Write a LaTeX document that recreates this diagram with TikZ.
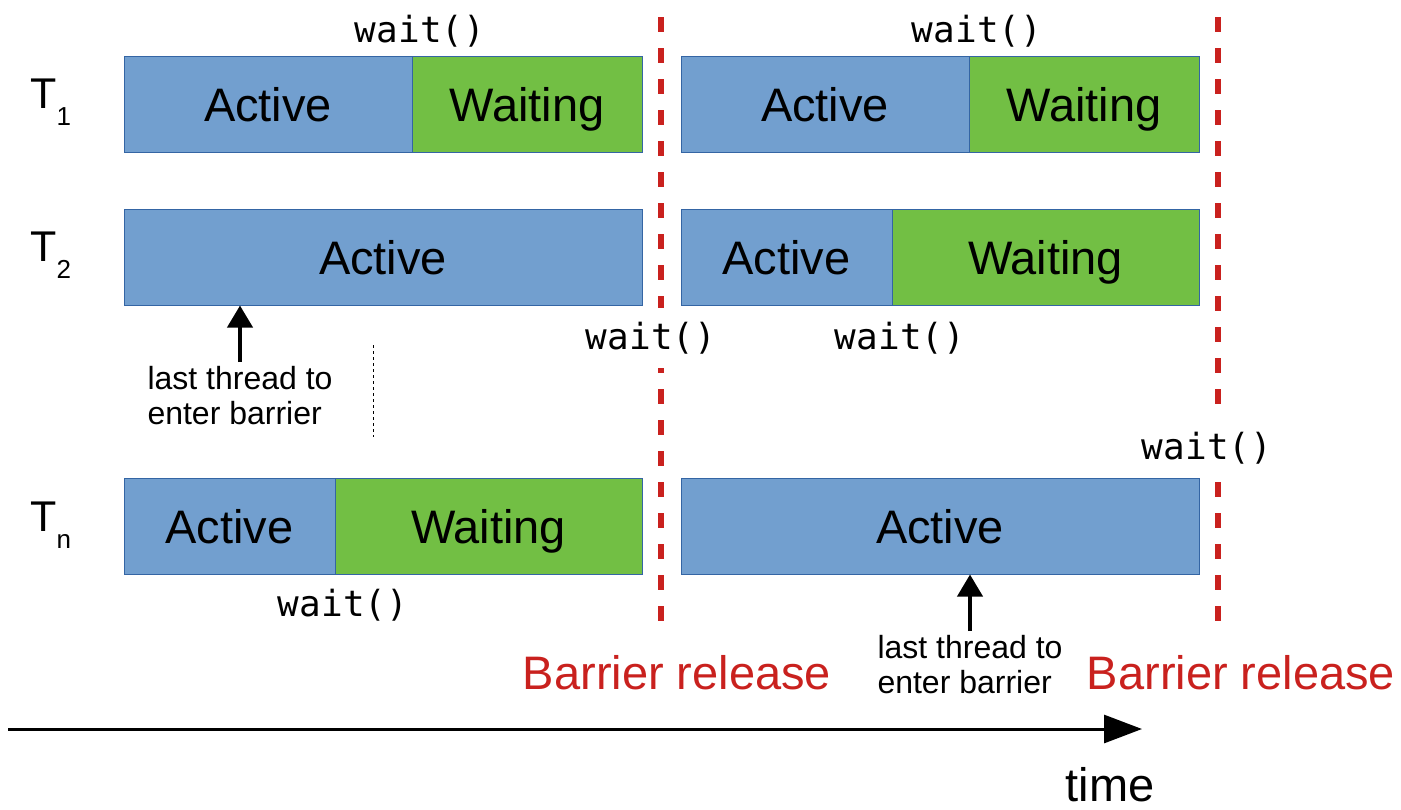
\documentclass[tikz,border=0pt]{standalone}
\usepackage{fontspec}
\setmainfont{Liberation Sans}
\setmonofont{DejaVu Sans Mono}
\usetikzlibrary{arrows.meta}

\definecolor{actblue}{HTML}{729FCF}
\definecolor{segedge}{HTML}{3465A4}
\definecolor{waitgreen}{HTML}{72BF44}
\definecolor{barred}{HTML}{C9211E}

\begin{document}
\begin{tikzpicture}[x=0.5pt,y=-0.5pt,
    seg/.style={draw=segedge,line width=0.5pt,anchor=west,outer sep=0pt,inner sep=0pt,
      minimum height=48pt,text height=17pt,text depth=0pt,font=\fontsize{23.5}{28}\selectfont},
    act/.style={seg,fill=actblue},
    wtg/.style={seg,fill=waitgreen},
    thr/.style={anchor=base west,inner sep=0pt,font=\fontsize{21.5}{26}\selectfont},
    call/.style={inner xsep=2pt,inner ysep=7pt,font=\ttfamily\fontsize{18}{22}\selectfont},
    note/.style={anchor=north,align=left,inner sep=2pt,font=\fontsize{16}{17.5}\selectfont},
    release/.style={text=barred,font=\fontsize{23.5}{28}\selectfont},
    barrier/.style={draw=barred,line width=3pt,dash pattern=on 7.5pt off 8pt},
    ptr/.style={line width=2pt,-{Triangle[length=11pt,width=12.5pt]}},
    timeline/.style={line width=1.5pt,-{Triangle[length=19pt,width=14pt]}}]
  \useasboundingbox (0,0) rectangle (1401,809);

  \coordinate (b1top) at (661,17);
  \coordinate (b1bot) at (661,636);
  \coordinate (b2top) at (1218,17);
  \coordinate (b2bot) at (1218,636);
  \draw[barrier] (b1top) -- (b1bot);
  \draw[barrier] (b2top) -- (b2bot);

  \node (th1) at (30,108) [thr] {T\raisebox{-8.5pt}{\fontsize{13}{13}\selectfont 1}};
  \node (th2) at (30,261.5) [thr] {T\raisebox{-8.5pt}{\fontsize{13}{13}\selectfont 2}};
  \node (thn) at (30,531) [thr] {T\raisebox{-8.5pt}{\fontsize{13}{13}\selectfont n}};

  \node (t1a) at (124,104) [act,minimum width=144pt] {Active};
  \node (t1w) at (t1a.east) [wtg,minimum width=115pt] {Waiting};
  \node (t1b) at (681,104) [act,minimum width=144pt] {Active};
  \node (t1v) at (t1b.east) [wtg,minimum width=115pt] {Waiting};

  \node (t2a) at (124,257.5) [act,minimum width=259pt] {Active};
  \node (t2b) at (681,257.5) [act,minimum width=105.5pt] {Active};
  \node (t2v) at (t2b.east) [wtg,minimum width=153.5pt] {Waiting};

  \node (tna) at (124,526.5) [act,minimum width=105.5pt] {Active};
  \node (tnw) at (tna.east) [wtg,minimum width=153.5pt] {Waiting};
  \node (tnb) at (681,526.5) [act,minimum width=259pt] {Active};

  \node (w1a) at (420,31) [call] {wait()};
  \node (w1b) at (977,31) [call] {wait()};
  \node (w2a) at (651,338) [call,fill=white] {wait()};
  \node (w2b) at (900,338) [call] {wait()};
  \node (wna) at (343,605) [call] {wait()};
  \node (wnb) at (1207,448) [call,fill=white] {wait()};

  \node (last1) at (240,362) [note] {last thread to\\enter barrier};
  \node (last2) at (970,631) [note] {last thread to\\enter barrier};
  \draw[ptr] (last1.north) -- (last1.north |- t2a.south);
  \draw[ptr] (last2.north) -- (last2.north |- tnb.south);

  \coordinate (gapA) at (373,345);
  \coordinate (gapB) at (373,437);
  \draw[line width=0.5pt,dash pattern=on 1.5pt off 1.5pt] (gapA) -- (gapB);

  \node (rel1) at (677,673) [release] {Barrier release};
  \node (rel2) at (1241,673) [release] {Barrier release};

  \coordinate (tstart) at (8,729);
  \coordinate (tend) at (1142,729);
  \draw[timeline] (tstart) -- (tend);
  \node (time) at (1110,785) [font=\fontsize{23.5}{28}\selectfont] {time};
\end{tikzpicture}
\end{document}
